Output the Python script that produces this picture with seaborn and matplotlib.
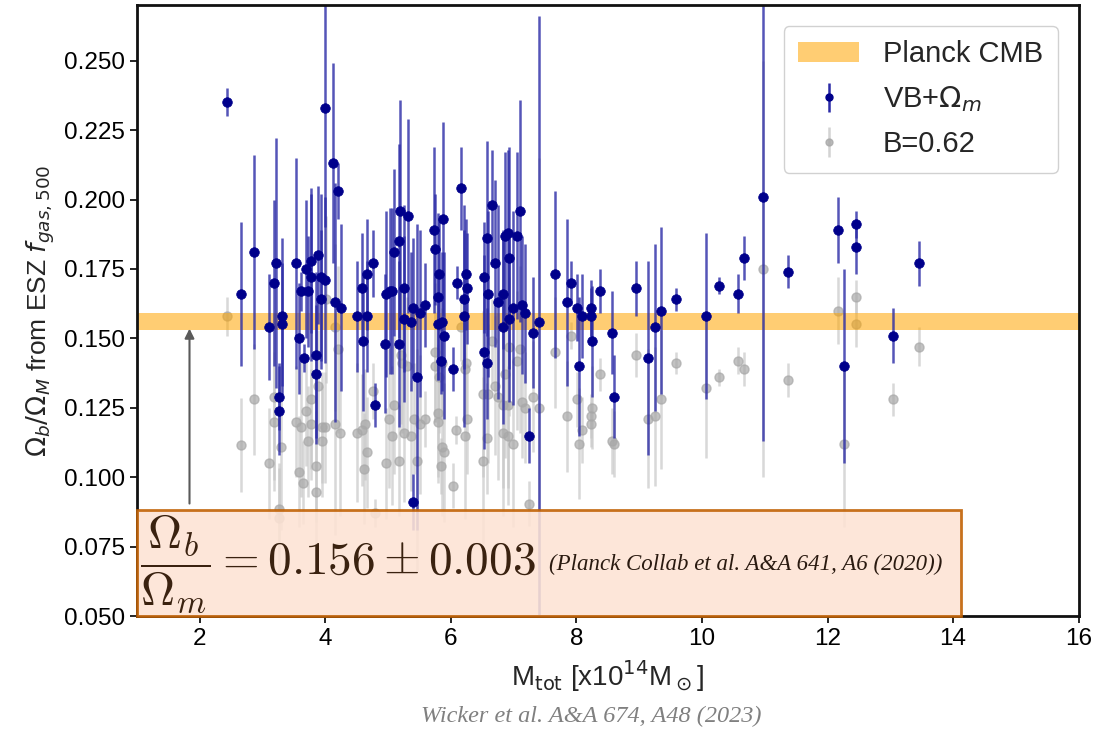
import numpy as np
import matplotlib
matplotlib.use("Agg")
import matplotlib.pyplot as plt
import seaborn as sns
from matplotlib.patches import Patch, Rectangle

# ---------------- data ----------------
vb_mass = [2.43, 2.66, 2.86, 3.10, 3.18, 3.21, 3.31, 3.31, 3.26, 3.26,
           3.54, 3.58, 3.61, 3.70, 3.73, 3.78, 3.78, 3.88, 3.94, 3.99,
           3.94, 4.00, 4.13, 4.21, 4.16, 4.26, 4.51, 4.59, 4.66, 4.67,
           4.77, 4.61, 4.97, 4.96, 3.86, 3.67, 3.85, 4.80, 5.03, 5.07,
           5.09, 5.18, 5.20, 5.32, 5.25, 5.25, 5.36, 5.40, 5.51, 5.59,
           5.17, 5.47, 5.40, 5.74, 5.75, 5.88, 5.82, 5.80, 5.80, 5.86,
           5.90, 5.85, 6.04, 6.17, 6.10, 6.25, 6.26, 6.21, 6.21, 6.53,
           6.58, 6.66, 6.60, 6.71, 6.76, 6.53, 6.58, 6.83, 6.87, 6.91,
           6.93, 7.06, 7.10, 6.99, 6.93, 6.83, 7.14, 7.19, 7.31, 7.41,
           7.66, 7.25, 7.85, 7.92, 8.01, 8.09, 8.23, 8.23, 8.38, 8.25,
           8.04, 8.57, 8.60, 8.95, 9.14, 9.25, 9.35, 9.59, 10.06, 10.28,
           10.57, 10.67, 10.97, 11.37, 12.16, 12.27, 12.46, 12.46, 13.05, 13.46]
vb_frac = [0.235, 0.166, 0.181, 0.154, 0.170, 0.177, 0.158, 0.155, 0.129, 0.124,
           0.177, 0.150, 0.167, 0.175, 0.167, 0.178, 0.172, 0.180, 0.172, 0.171,
           0.164, 0.233, 0.213, 0.203, 0.163, 0.161, 0.158, 0.168, 0.173, 0.158,
           0.177, 0.149, 0.166, 0.148, 0.144, 0.143, 0.137, 0.126, 0.167, 0.167,
           0.181, 0.185, 0.196, 0.194, 0.168, 0.157, 0.156, 0.161, 0.159, 0.162,
           0.148, 0.136, 0.091, 0.189, 0.182, 0.193, 0.173, 0.165, 0.155, 0.156,
           0.151, 0.142, 0.139, 0.204, 0.170, 0.173, 0.168, 0.164, 0.158, 0.172,
           0.186, 0.198, 0.166, 0.177, 0.163, 0.145, 0.141, 0.166, 0.187, 0.188,
           0.179, 0.187, 0.196, 0.161, 0.157, 0.154, 0.162, 0.159, 0.152, 0.156,
           0.173, 0.115, 0.163, 0.170, 0.161, 0.158, 0.158, 0.161, 0.167, 0.149,
           0.140, 0.152, 0.129, 0.168, 0.143, 0.154, 0.160, 0.164, 0.158, 0.169,
           0.166, 0.179, 0.201, 0.174, 0.189, 0.140, 0.191, 0.183, 0.151, 0.177]
vb_err = [0.005, 0.026, 0.035, 0.019, 0.030, 0.045, 0.028, 0.022, 0.012, 0.016,
          0.038, 0.020, 0.007, 0.025, 0.020, 0.026, 0.030, 0.025, 0.030, 0.030,
          0.025, 0.043, 0.036, 0.010, 0.043, 0.030, 0.020, 0.020, 0.020, 0.020,
          0.012, 0.025, 0.030, 0.025, 0.030, 0.005, 0.025, 0.008, 0.030, 0.030,
          0.030, 0.035, 0.040, 0.035, 0.030, 0.030, 0.025, 0.025, 0.030, 0.015,
          0.030, 0.055, 0.010, 0.030, 0.020, 0.035, 0.020, 0.030, 0.020, 0.025,
          0.030, 0.012, 0.008, 0.015, 0.006, 0.020, 0.020, 0.025, 0.040, 0.020,
          0.035, 0.020, 0.030, 0.030, 0.035, 0.035, 0.020, 0.020, 0.030, 0.030,
          0.040, 0.030, 0.040, 0.035, 0.030, 0.035, 0.025, 0.025, 0.020, 0.110,
          0.030, 0.010, 0.030, 0.008, 0.012, 0.015, 0.010, 0.010, 0.008, 0.020,
          0.025, 0.015, 0.015, 0.010, 0.035, 0.030, 0.030, 0.004, 0.030, 0.003,
          0.007, 0.008, 0.088, 0.006, 0.012, 0.035, 0.005, 0.010, 0.010, 0.008]

b_mass = [2.43, 2.66, 2.86, 3.10, 3.18, 3.19, 3.29, 3.26, 3.26, 3.54,
          3.59, 3.62, 3.65, 3.70, 3.73, 3.78, 3.78, 3.88, 3.86, 3.86,
          3.95, 3.99, 3.95, 4.02, 4.15, 4.21, 4.16, 4.24, 4.51, 4.62,
          4.59, 4.64, 4.67, 4.77, 4.80, 4.97, 5.02, 5.07, 5.09, 5.17,
          5.21, 5.23, 5.31, 5.26, 5.36, 5.42, 5.51, 5.59, 5.47, 5.75,
          5.75, 5.82, 5.80, 5.80, 5.86, 5.86, 5.90, 5.85, 6.04, 6.09,
          6.17, 6.23, 6.26, 6.23, 6.25, 6.52, 6.52, 6.58, 6.60, 6.66,
          6.71, 6.75, 6.83, 6.92, 6.87, 6.83, 6.91, 6.99, 6.93, 7.06,
          7.11, 7.14, 7.19, 7.31, 7.41, 7.25, 7.66, 7.92, 7.85, 8.01,
          8.04, 8.09, 8.23, 8.23, 8.25, 8.38, 8.57, 8.60, 8.95, 9.14,
          9.25, 9.35, 9.59, 10.06, 10.28, 10.57, 10.67, 10.97, 11.37, 12.16,
          12.46, 12.46, 12.27, 13.05, 13.46]
b_frac = [0.158, 0.1115, 0.128, 0.105, 0.120, 0.129, 0.111, 0.0884, 0.0852, 0.120,
          0.102, 0.118, 0.098, 0.124, 0.113, 0.119, 0.128, 0.133, 0.104, 0.0945,
          0.118, 0.118, 0.113, 0.164, 0.154, 0.146, 0.119, 0.116, 0.116, 0.103,
          0.117, 0.119, 0.109, 0.131, 0.087, 0.105, 0.121, 0.115, 0.126, 0.106,
          0.144, 0.141, 0.140, 0.116, 0.115, 0.121, 0.119, 0.121, 0.106, 0.145,
          0.140, 0.136, 0.123, 0.120, 0.141, 0.111, 0.109, 0.104, 0.097, 0.117,
          0.154, 0.115, 0.121, 0.139, 0.141, 0.130, 0.106, 0.114, 0.130, 0.149,
          0.133, 0.129, 0.126, 0.126, 0.137, 0.116, 0.115, 0.112, 0.147, 0.142,
          0.146, 0.127, 0.125, 0.129, 0.125, 0.0905, 0.145, 0.151, 0.122, 0.128,
          0.112, 0.117, 0.122, 0.119, 0.125, 0.137, 0.113, 0.112, 0.144, 0.121,
          0.122, 0.128, 0.141, 0.132, 0.136, 0.142, 0.139, 0.175, 0.135, 0.160,
          0.165, 0.155, 0.112, 0.128, 0.147]
b_err = [0.007, 0.017, 0.020, 0.020, 0.025, 0.030, 0.030, 0.015, 0.020, 0.020,
         0.020, 0.025, 0.015, 0.020, 0.020, 0.020, 0.025, 0.020, 0.020, 0.020,
         0.020, 0.020, 0.020, 0.030, 0.030, 0.030, 0.040, 0.030, 0.025, 0.020,
         0.020, 0.020, 0.020, 0.010, 0.005, 0.020, 0.025, 0.025, 0.025, 0.020,
         0.025, 0.025, 0.025, 0.025, 0.020, 0.020, 0.025, 0.010, 0.040, 0.025,
         0.020, 0.020, 0.025, 0.020, 0.020, 0.025, 0.025, 0.010, 0.008, 0.005,
         0.012, 0.030, 0.020, 0.020, 0.020, 0.030, 0.030, 0.020, 0.025, 0.015,
         0.025, 0.030, 0.030, 0.030, 0.030, 0.030, 0.025, 0.030, 0.025, 0.025,
         0.030, 0.020, 0.020, 0.020, 0.090, 0.008, 0.020, 0.005, 0.020, 0.010,
         0.020, 0.012, 0.008, 0.008, 0.015, 0.006, 0.012, 0.012, 0.008, 0.025,
         0.025, 0.025, 0.004, 0.025, 0.003, 0.005, 0.006, 0.075, 0.006, 0.012,
         0.006, 0.008, 0.030, 0.006, 0.007]

planck_value = 0.156
planck_err = 0.003

series_labels = ["Planck CMB", "VB+$\\Omega_m$", "B=0.62"]
x_ticks = [2, 4, 6, 8, 10, 12, 14, 16]
y_ticks = [0.050, 0.075, 0.100, 0.125, 0.150, 0.175, 0.200, 0.225, 0.250]

# ---------------- style ----------------
sns.set_style("white")
plt.rcParams["font.family"] = ["Liberation Sans", "DejaVu Sans"]
plt.rcParams["mathtext.fontset"] = "dejavusans"

fig = plt.figure(figsize=(10.94, 7.33), dpi=100)
ax = fig.add_axes([0.125, 0.1596, 0.861, 0.8334])

navy = "#00008b"
blue_line = "#2b2ba6"
gray_mk = "#a8a8a8"
gray_line = "#c8c8c8"

# Planck band
ax.axhspan(planck_value - planck_err, planck_value + planck_err,
           color="#ffa500", alpha=0.55, lw=0, zorder=1.5)

# B = 0.62 (gray)
ax.errorbar(b_mass, b_frac, yerr=b_err, fmt="o", ms=6.5,
            color=gray_mk, mfc=gray_mk, mec=gray_mk, alpha=0.7,
            ecolor=gray_line, elinewidth=1.8, capsize=0, zorder=1)
# VB + Omega_m (blue)
ax.errorbar(vb_mass, vb_frac, yerr=vb_err, fmt="none",
            ecolor=blue_line, elinewidth=1.8, alpha=0.8, capsize=0, zorder=2)
sns.scatterplot(x=vb_mass, y=vb_frac, ax=ax, color=navy, s=48,
                edgecolor=navy, linewidth=0.5, zorder=3, legend=False)

# legend handles (drawn outside the visible range)
h_vb = ax.errorbar([0], [0], yerr=[0.01], fmt="o", ms=5, color=navy,
                   ecolor=blue_line, elinewidth=1.8, capsize=0)
h_b = ax.errorbar([0], [0], yerr=[0.01], fmt="o", ms=5, color=gray_mk,
                  ecolor=gray_line, elinewidth=1.8, capsize=0, alpha=0.8)
leg = ax.legend([Patch(facecolor="#ffa500", alpha=0.55, lw=0), h_vb, h_b],
                series_labels, loc="upper right", fontsize=21,
                frameon=True, fancybox=True, framealpha=0.9, edgecolor="#cccccc",
                borderpad=0.5, labelspacing=0.55, handlelength=2.1,
                handletextpad=0.8, bbox_to_anchor=(0.993, 0.99))
leg.set_zorder(10)

ax.set_xlim(1.0, 16.0)
ax.set_ylim(0.05, 0.27)
ax.set_xticks(x_ticks)
ax.set_yticks(y_ticks)
ax.set_xticklabels([str(t) for t in x_ticks])
ax.set_yticklabels([f"{t:.3f}" for t in y_ticks])
ax.tick_params(axis="both", which="both", direction="out", length=5, width=1.2,
               labelsize=17.5, color="black", labelcolor="black",
               left=True, bottom=True, top=False, right=False)
for s in ax.spines.values():
    s.set_color("#111111")
    s.set_linewidth(2.0)

ax.set_xlabel("M$_{\\rm tot}$ [x10$^{14}$M$_\\odot$]", fontsize=20, labelpad=6)
ax.set_ylabel("$\\Omega_b/\\Omega_M$ from ESZ $f_{gas,500}$", fontsize=19, labelpad=5)

# annotation box
rect = Rectangle((1.0, 0.05), 13.12, 0.0382, facecolor="#fde3d4", alpha=0.88,
                 edgecolor="#c05f00", lw=2.0, zorder=6, clip_on=False)
ax.add_patch(rect)
ax.text(1.05, 0.0688, r"$\dfrac{\Omega_b}{\Omega_m} = 0.156 \pm 0.003$",
        fontsize=34, color="#3a2210", math_fontfamily="cm",
        ha="left", va="center", zorder=7)
ax.text(7.57, 0.0685, "(Planck Collab et al. A&A 641, A6 (2020))",
        fontsize=16.5, style="italic", family="Liberation Serif",
        color="#2a1a10", ha="left", va="center", zorder=7)

# arrow
ax.annotate("", xy=(1.84, 0.1545), xytext=(1.84, 0.0895),
            arrowprops=dict(arrowstyle="-|>", color="#5a5a5a", lw=1.5,
                            mutation_scale=14), zorder=5)

fig.text(0.54, 0.022, "Wicker et al. A&A 674, A48 (2023)", fontsize=17.5,
         style="italic", family="Liberation Serif", color="#808080",
         ha="center", va="center")

fig.savefig("out.png", dpi=100)
